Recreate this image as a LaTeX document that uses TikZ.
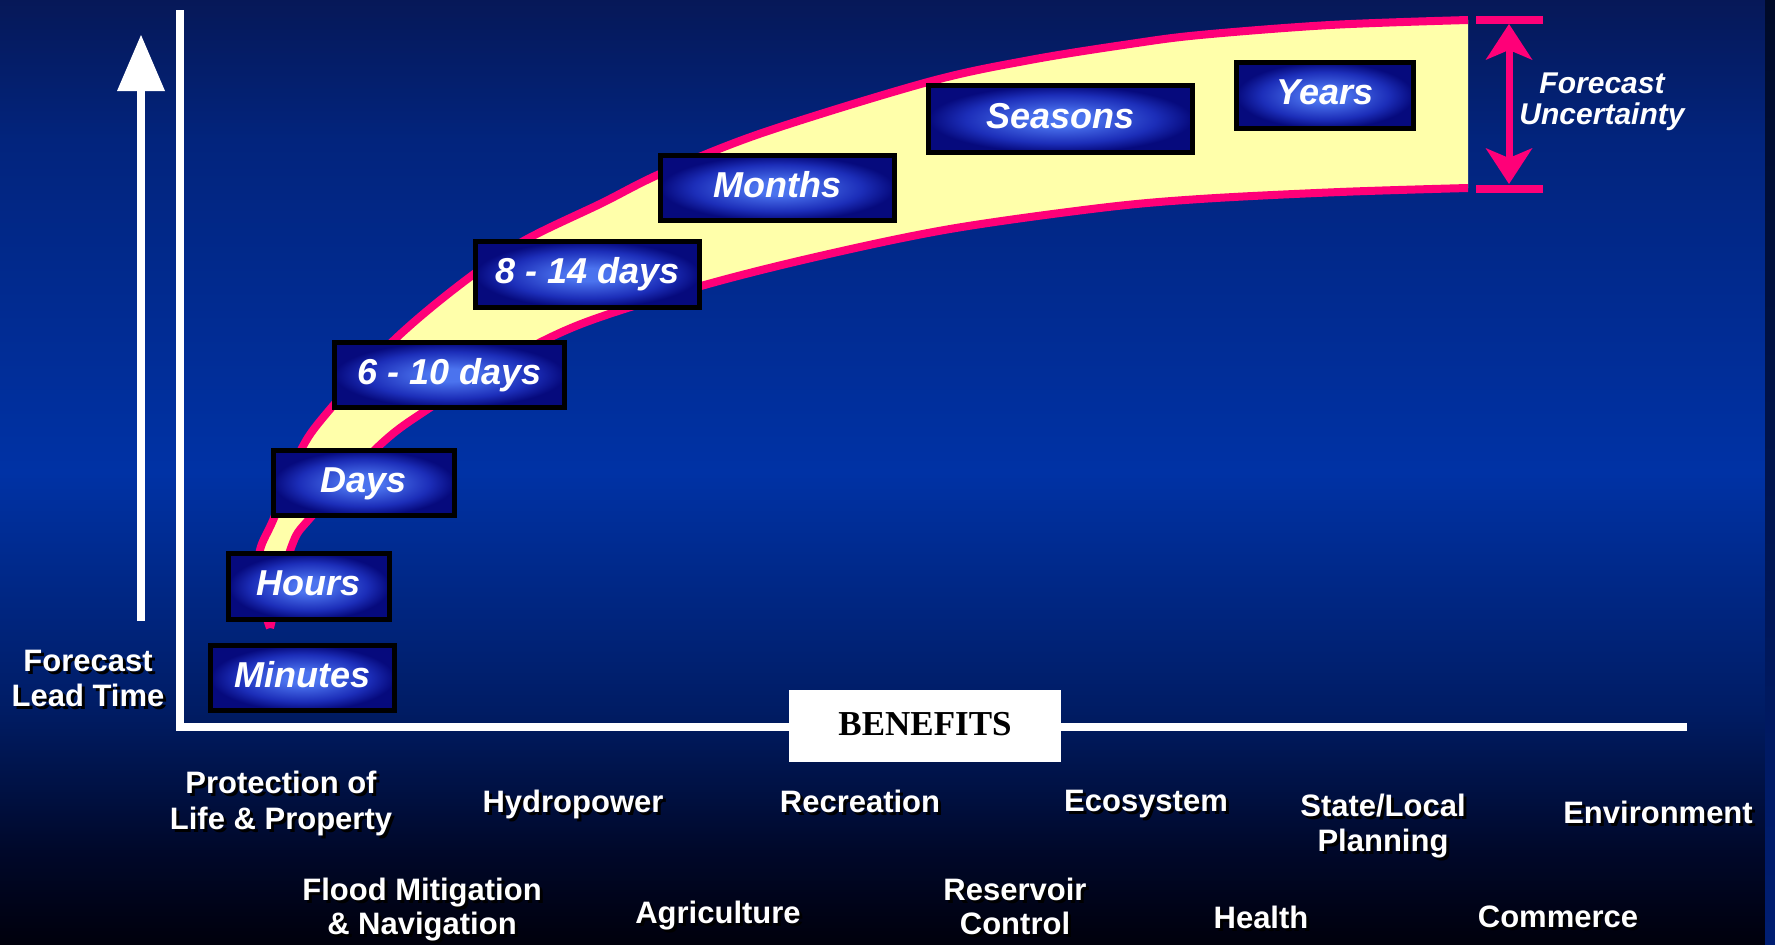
\documentclass[tikz,border=0pt]{standalone}
\usepackage{fontspec}
\setmainfont{Liberation Sans}
\newfontfamily\lserif{Liberation Serif}
\usetikzlibrary{arrows.meta}

\definecolor{bgtop}{RGB}{6,24,88}
\definecolor{bgup}{RGB}{2,36,125}
\definecolor{bgmid}{RGB}{0,50,165}
\definecolor{bglow}{RGB}{0,28,100}
\definecolor{bgdeep}{RGB}{0,8,42}
\definecolor{bgbot}{RGB}{0,0,12}
\definecolor{pinkc}{RGB}{255,0,120}
\definecolor{bandy}{RGB}{255,255,170}
\definecolor{boxin}{RGB}{75,115,238}
\definecolor{boxmid}{RGB}{28,46,185}
\definecolor{boxout}{RGB}{6,10,125}
\definecolor{striptop}{RGB}{0,10,40}
\definecolor{stripbot}{RGB}{0,30,115}

% TikZ maps the path box onto 25bp..75bp of an axis shading
\pgfdeclareverticalshading{bgshade}{100bp}{color(0bp)=(bgbot); color(25bp)=(bgbot); color(30bp)=(bgdeep); color(37.4bp)=(bglow); color(50bp)=(bgmid); color(67.6bp)=(bgup); color(75bp)=(bgtop); color(100bp)=(bgtop)}
% and onto radius 0..25bp of a radial shading
\pgfdeclareradialshading{boxglow}{\pgfpointorigin}{color(0bp)=(boxin); color(5bp)=(boxin); color(18bp)=(boxmid); color(25bp)=(boxout); color(50bp)=(boxout)}

\newcommand\dropsh[1]{\rlap{\kern3pt\raisebox{-3pt}[0pt][0pt]{\color{black}#1}}#1}
\newcommand\boxfnt{\fontsize{36}{40}\selectfont\bfseries\itshape}
\newcommand\labfnt{\fontsize{31}{36}\selectfont\bfseries}

\tikzset{
  tbox/.style={draw=black, line width=5pt, shade, shading=boxglow, inner sep=0pt,
    text=white, font=\boxfnt, text height=26pt, text depth=8pt},
  lab/.style={text=white, font=\labfnt, align=center, anchor=north, inner sep=0pt},
  bandline/.style={draw=pinkc, line width=8pt},
}

\begin{document}
\begin{tikzpicture}[x=1pt, y=-1pt]
\useasboundingbox (0,0) rectangle (1775,945);
% background
\shade[shading=bgshade] (0,0) rectangle (1775,945);
\shade[top color=striptop, middle color=black, bottom color=stripbot] (1765,0) rectangle (1775,945);

% axes
\coordinate (ytop) at (180,10);
\coordinate (orig) at (180,727);
\coordinate (xend) at (1687,727);
\draw[white, line width=8pt, line join=miter] (ytop) -- (orig) -- (xend);

% lead time arrow
\coordinate (abot) at (141,621);
\coordinate (atop) at (141,35);
\draw[white, line width=8pt, -{Triangle[length=56pt, width=48pt, line width=0pt]}] (abot) -- (atop);

% band
\fill[bandy] plot[smooth, tension=0.55] coordinates {(270,628) (258,585) (260,550) (274,518) (300,452) (326,414) (390,344) (453,290) (520,243) (602,203) (662,173) (762,133) (928,82) (1030,60) (1130,44) (1200,35) (1330,25) (1468,20)}
  -- plot[smooth, tension=0.55] coordinates {(1468,188) (1340,192) (1200,199) (1100,208) (950,229) (820,256) (701,286) (581,324) (500,364) (428,409) (381,444) (311,517) (291,548) (270,628)} -- cycle;
\draw[bandline] plot[smooth, tension=0.55] coordinates {(270,628) (258,585) (260,550) (274,518) (300,452) (326,414) (390,344) (453,290) (520,243) (602,203) (662,173) (762,133) (928,82) (1030,60) (1130,44) (1200,35) (1330,25) (1468,20)};
\draw[bandline] plot[smooth, tension=0.55] coordinates {(1468,188) (1340,192) (1200,199) (1100,208) (950,229) (820,256) (701,286) (581,324) (500,364) (428,409) (381,444) (311,517) (291,548) (270,628)};

% uncertainty arrow
\draw[pinkc, line width=8pt] (1476,20) -- (1543,20);
\draw[pinkc, line width=8pt] (1476,188.5) -- (1543,188.5);
\coordinate (utop) at (1509,24);
\coordinate (ubot) at (1509,184);
\draw[pinkc, line width=7pt, {Stealth[length=36pt, width=47pt, inset=10pt, line width=0pt]}-{Stealth[length=36pt, width=47pt, inset=10pt, line width=0pt]}] (utop) -- (ubot);
\node[text=white, font=\fontsize{30}{31}\selectfont\bfseries\itshape, align=center, anchor=north, inner sep=0pt] (unc) at (1602,73) {Forecast\\Uncertainty};

% time boxes
\node[tbox, minimum width=184pt, minimum height=65pt] (minutes) at (302.5,678) {Minutes};
\node[tbox, minimum width=161pt, minimum height=66pt] (hours) at (309,586.5) {Hours};
\node[tbox, minimum width=181pt, minimum height=65pt] (days) at (364,483) {Days};
\node[tbox, minimum width=230pt, minimum height=65pt] (d610) at (449.5,375) {6 - 10 days};
\node[tbox, minimum width=224pt, minimum height=66pt] (d814) at (587.5,274.5) {8 - 14 days};
\node[tbox, minimum width=234pt, minimum height=65pt] (months) at (777.5,188) {Months};
\node[tbox, minimum width=264pt, minimum height=67pt] (seasons) at (1060.5,119) {Seasons};
\node[tbox, minimum width=177pt, minimum height=66pt] (years) at (1325,95.5) {Years};

% lead time label
\node[lab, font=\fontsize{31}{35}\selectfont\bfseries] (leadtime) at (88,650) {\dropsh{Forecast}\\\dropsh{Lead Time}};

% benefits
\node[fill=white, inner sep=0pt, minimum width=272pt, minimum height=72pt, text=black,
  font=\lserif\fontsize{35}{40}\selectfont\bfseries, text height=23pt, text depth=5pt] (benefits) at (925,726) {BENEFITS};

% benefit labels
\node[lab, font=\fontsize{31}{36}\selectfont\bfseries] (protect) at (281,771) {\dropsh{Protection of}\\\dropsh{Life \& Property}};
\node[lab] (hydro) at (573,790) {\dropsh{Hydropower}};
\node[lab] (recre) at (860,790) {\dropsh{Recreation}};
\node[lab] (ecosys) at (1146,790) {\dropsh{Ecosystem}};
\node[lab, font=\fontsize{31}{35}\selectfont\bfseries] (state) at (1383,794) {\dropsh{State/Local}\\\dropsh{Planning}};
\node[lab] (envir) at (1658,801) {\dropsh{Environment}};
\node[lab, font=\fontsize{31}{34}\selectfont\bfseries] (flood) at (422,878) {\dropsh{Flood Mitigation}\\\dropsh{\& Navigation}};
\node[lab] (agri) at (718,901) {\dropsh{Agriculture}};
\node[lab, font=\fontsize{31}{34}\selectfont\bfseries] (reserv) at (1015,878) {\dropsh{Reservoir}\\\dropsh{Control}};
\node[lab] (health) at (1261,906) {\dropsh{Health}};
\node[lab] (commerce) at (1558,906) {\dropsh{Commerce}};
\end{tikzpicture}
\end{document}
